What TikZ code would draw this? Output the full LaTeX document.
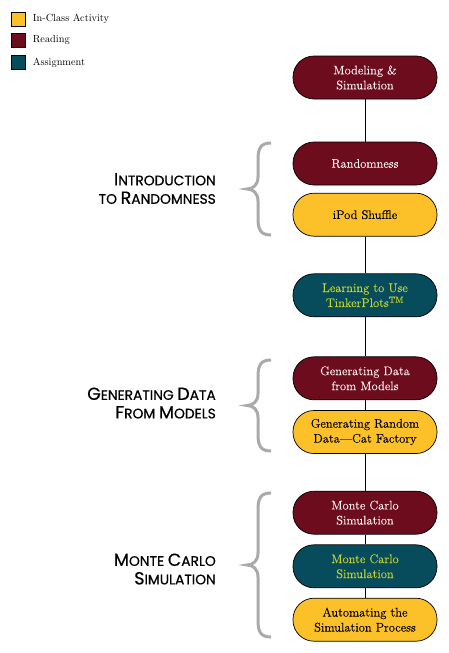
\documentclass[tikz,border=0pt]{standalone}
\usepackage{fontspec}
\usepackage{tikz}
\newfontfamily\titlefont[FakeBold=0.6]{Poppins}
\newfontfamily\boxfont[Ligatures=TeX,FakeBold=0.12]{Latin Modern Roman}
\definecolor{readcol}{RGB}{108,12,28}
\definecolor{actcol}{RGB}{252,192,40}
\definecolor{asgcol}{RGB}{7,76,92}
\definecolor{asgtext}{RGB}{196,212,44}
\definecolor{readtext}{RGB}{248,238,238}
\definecolor{bracecol}{RGB}{170,170,170}
\newcommand{\sctitle}[2]{{\fontsize{17.5}{18}\selectfont #1}{\fontsize{13.8}{18}\selectfont #2}}

\begin{document}
\begin{tikzpicture}
[x=1pt,y=-1pt,
 box/.style={draw=black,line width=.7pt,rounded corners=21pt,minimum width=144pt,minimum height=43pt,align=center,inner sep=2pt,font=\boxfont\fontsize{12.5}{15}\selectfont},
 readbox/.style={box,fill=readcol,text=readtext},
 actbox/.style={box,fill=actcol,text=black},
 asgbox/.style={box,fill=asgcol,text=asgtext},
 key/.style={draw=black,line width=.8pt,minimum size=14pt,inner sep=0pt},
 keytext/.style={anchor=west,inner sep=0pt,font=\fontsize{10.3}{11}\selectfont},
 head/.style={anchor=east,align=right,inner sep=0pt,font=\titlefont\fontsize{13.8}{18.5}\selectfont}]
\useasboundingbox (0,0) rectangle (449,653);

% legend
\node[key,fill=actcol] (k1) at (18,19.3) {};
\node[keytext] (c1) at (32.7,19.3) {In-Class Activity};
\node[key,fill=readcol] (k2) at (18,40) {};
\node[keytext] (c2) at (32.7,40) {Reading};
\node[key,fill=asgcol] (k3) at (18,62.8) {};
\node[keytext] (c3) at (32.7,62.8) {Assignment};

% units
\node[readbox] (b1) at (365,77.5) {Modeling \&\\Simulation};
\node[readbox] (b2) at (365,163.5) {Randomness};
\node[actbox] (b3) at (365,214.7) {iPod Shuffle};
\node[asgbox] (b4) at (365,295.3) {Learning to Use\\TinkerPlots\textsuperscript{TM}};
\node[readbox] (b5) at (365,378.3) {Generating Data\\from Models};
\node[actbox] (b6) at (365,432) {Generating Random\\Data\textemdash Cat Factory};
\node[readbox] (b7) at (365,512.7) {Monte Carlo\\Simulation};
\node[asgbox] (b8) at (365,566.3) {Monte Carlo\\Simulation};
\node[actbox] (b9) at (365,619.7) {Automating the\\Simulation Process};

% section titles
\node[head] (h1) at (216,188.5) {\sctitle{I}{NTRODUCTION}\\\sctitle{}{TO} \sctitle{R}{ANDOMNESS}};
\node[head] (h2) at (216,403) {\sctitle{G}{ENERATING} \sctitle{D}{ATA}\\\sctitle{F}{ROM} \sctitle{M}{ODELS}};
\node[head] (h3) at (216,569) {\sctitle{M}{ONTE} \sctitle{C}{ARLO}\\\sctitle{S}{IMULATION}};

\foreach \from/\to in {b1/b2,b3/b4,b4/b5,b5/b6,b6/b7,b7/b8,b8/b9}
\draw[line width=1pt] (\from) -- (\to);

% braces
\foreach \ya/\yb in {143/235,360/451,493/637}
{\pgfmathsetmacro\ym{(\ya+\yb)/2}
\draw[bracecol,line width=3pt] (271,\ya) .. controls (260,\ya) and (258,\ya+6) .. (258,\ya+17)
 -- (258,\ym-12) .. controls (258,\ym-4) and (253,\ym) .. (247,\ym)
 .. controls (253,\ym) and (258,\ym+4) .. (258,\ym+12)
 -- (258,\yb-17) .. controls (258,\yb-6) and (260,\yb) .. (271,\yb);}
\end{tikzpicture}
\end{document}
